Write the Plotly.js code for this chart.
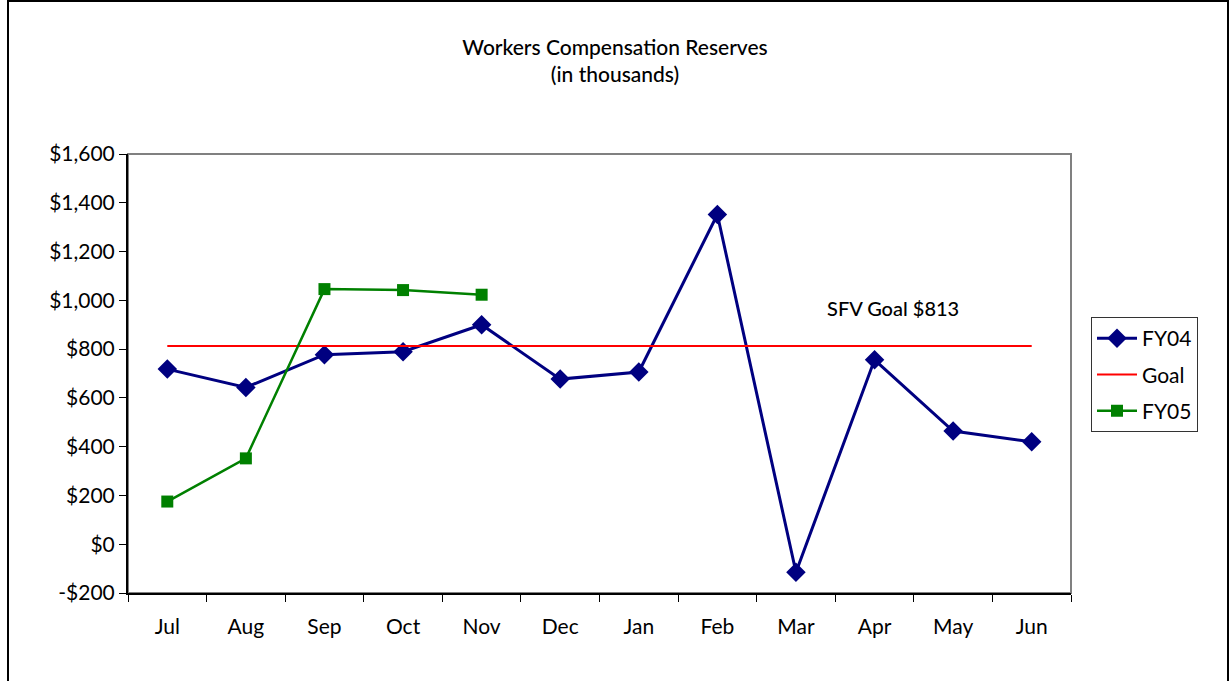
<!DOCTYPE html>
<html><head><meta charset="utf-8">
<script src="https://cdn.plot.ly/plotly-3.0.1.min.js"></script>
<style>html,body{margin:0;padding:0;background:#fff;}#chart{width:1230px;height:681px;}</style>
</head><body><div id="chart"></div>
<script>
const months = ["Jul","Aug","Sep","Oct","Nov","Dec","Jan","Feb","Mar","Apr","May","Jun"];
const fy04 = [718, 643, 777, 789, 900, 677, 706, 1352, -115, 756, 464, 420];
const fy05 = [175, 352, 1046, 1042, 1023];
const goalValue = 813;
const goal = months.map(() => goalValue);
const yTickVals = [-200, 0, 200, 400, 600, 800, 1000, 1200, 1400, 1600];
const yTickText = ["-$200","$0","$200","$400","$600","$800","$1,000","$1,200","$1,400","$1,600"];

const font = "Lato, 'Open Sans', sans-serif";
const traces = [
  {x: months, y: fy04, name: "FY04", type: "scatter", mode: "lines+markers", legendgroup: "a",
   line: {color: "#000080", width: 3}, marker: {symbol: "diamond", size: 15, color: "#000080"}},
  {x: months, y: goal, name: "Goal", type: "scatter", mode: "lines", legendgroup: "b",
   line: {color: "#FF0000", width: 2}},
  {x: months.slice(0, fy05.length), y: fy05, name: "FY05", type: "scatter", mode: "lines+markers", legendgroup: "c",
   line: {color: "#008000", width: 2.5}, marker: {symbol: "square", size: 12, color: "#008000"}}
];
const W = 943, H = 439, L = 128, T = 154;
const px = v => (v - L) / W;
const py = v => (T + H - v) / H;
const layout = {
  width: 1230, height: 681,
  margin: {l: L, r: 1230 - L - W, t: T, b: 681 - T - H},
  paper_bgcolor: "#fff", plot_bgcolor: "#fff",
  font: {family: font, color: "#000", size: 21},
  title: {text: "Workers Compensation Reserves<br>(in thousands)", x: 0.5, xanchor: "center",
          y: 1 - 55/681, yanchor: "middle", font: {family: font, size: 21, color: "#000", weight: 500}},
  showlegend: true,
  legend: {x: px(1091), y: py(317), xanchor: "left", yanchor: "top", bordercolor: "#333", borderwidth: 1,
           bgcolor: "#fff", font: {family: font, size: 21}, itemwidth: 40, tracegroupgap: 6},
  xaxis: {type: "category", categoryorder: "array", categoryarray: months, range: [-0.5, 11.5],
          tickson: "boundaries", ticks: "outside", ticklen: 7, tickcolor: "#000", tickwidth: 1,
          ticklabelstandoff: 14,
          showline: true, linecolor: "#000", linewidth: 2, showgrid: false, zeroline: false,
          tickfont: {family: font, size: 21, color: "#000"}, fixedrange: true},
  yaxis: {range: [-200, 1600], tickvals: yTickVals, ticktext: yTickText, ticks: "outside", ticklen: 7,
          tickcolor: "#000", tickwidth: 1, showline: true, linecolor: "#000", linewidth: 2, showgrid: false,
          zeroline: false, tickfont: {family: font, size: 21, color: "#000"}, fixedrange: true},
  shapes: [
    {type: "rect", xref: "paper", yref: "paper", x0: 0, x1: 1, y0: 0, y1: 1,
     line: {color: "#808080", width: 2}, layer: "below"},
    {type: "rect", xref: "paper", yref: "paper", x0: px(8), x1: px(1228), y0: py(700), y1: py(1),
     line: {color: "#000", width: 2}, layer: "below"}
  ],
  annotations: [
    {text: "SFV Goal $813", xref: "paper", yref: "paper", x: px(893), y: py(308), xanchor: "center",
     yanchor: "middle", showarrow: false, font: {family: font, size: 20, color: "#000", weight: 500}}
  ]
};
Plotly.newPlot("chart", traces, layout, {displayModeBar: false, staticPlot: true});
</script></body></html>
